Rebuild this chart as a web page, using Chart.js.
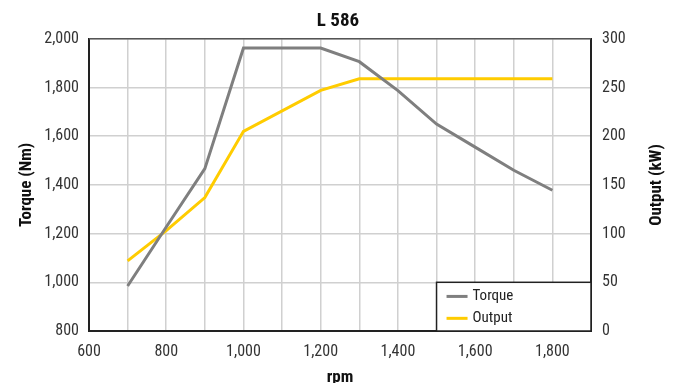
<!DOCTYPE html>
<html><head><meta charset="utf-8">
<script src="https://cdn.jsdelivr.net/npm/chart.js@4"></script>
<style>html,body{margin:0;padding:0;background:#fff}#wrap{width:676px;height:383px}</style>
</head><body><div id="wrap"><canvas id="c" width="676" height="383"></canvas></div>
<script>
const chartTitle = "L 586";
const rpm = [700, 800, 900, 1000, 1200, 1300, 1400, 1500, 1600, 1700, 1800];
const torqueNm = [985, 1227, 1467, 1962, 1962, 1906, 1787, 1650, 1555, 1460, 1378];
const outputKW = [72, 103, 137, 205, 247, 259, 259, 259, 259, 259, 259];
const seriesNames = ["Torque", "Output"];
const seriesColors = ["#7f7f7f", "#ffcc00"];
const xTitle = "rpm", yLeftTitle = "Torque (Nm)", yRightTitle = "Output (kW)";
const FONT = "'Roboto Condensed','Roboto',sans-serif";

const fmt = v => Number(v).toLocaleString('en-US');

const frame = {
  id: 'frame',
  afterDraw(chart) {
    const {ctx, chartArea: a, scales} = chart;
    ctx.save();
    ctx.strokeStyle = '#555'; ctx.lineWidth = 1.5;
    ctx.beginPath(); ctx.moveTo(a.left, a.top); ctx.lineTo(a.right, a.top); ctx.stroke();
    const x0 = scales.x.getPixelForValue(1500);
    const y0 = scales.y2.getPixelForValue(50);
    ctx.fillStyle = '#fff';
    ctx.fillRect(x0, y0, a.right - x0, a.bottom - y0);
    ctx.strokeStyle = '#222'; ctx.lineWidth = 1.5;
    ctx.strokeRect(x0, y0, a.right - x0, a.bottom - y0);
    ctx.font = "15px " + FONT; ctx.textBaseline = 'middle'; ctx.textAlign = 'left';
    const h = a.bottom - y0;
    seriesNames.forEach((n, i) => {
      const yy = y0 + h * (i === 0 ? 0.29 : 0.74);
      ctx.strokeStyle = seriesColors[i]; ctx.lineWidth = 3;
      ctx.beginPath(); ctx.moveTo(x0 + 10, yy); ctx.lineTo(x0 + 31, yy); ctx.stroke();
      ctx.fillStyle = '#222'; ctx.fillText(n, x0 + 36, yy);
    });
    ctx.fillStyle = '#111';
    ctx.font = "bold 17px " + FONT;
    ctx.textAlign = 'center'; ctx.textBaseline = 'middle';
    const cy = (a.top + a.bottom) / 2;
    ctx.save(); ctx.translate(27, cy); ctx.rotate(-Math.PI / 2); ctx.fillText(yLeftTitle, 0, 0); ctx.restore();
    ctx.save(); ctx.translate(657, cy); ctx.rotate(-Math.PI / 2); ctx.fillText(yRightTitle, 0, 0); ctx.restore();
    ctx.textBaseline = 'top';
    ctx.fillText(xTitle, (a.left + a.right) / 2, 369);
    ctx.restore();
  }
};

new Chart(document.getElementById('c'), {
  type: 'line',
  data: {
    datasets: [
      { label: seriesNames[0], data: rpm.map((r, i) => ({x: r, y: torqueNm[i]})), yAxisID: 'y',
        borderColor: seriesColors[0], borderWidth: 3, pointRadius: 0, tension: 0 },
      { label: seriesNames[1], data: rpm.map((r, i) => ({x: r, y: outputKW[i]})), yAxisID: 'y2',
        borderColor: seriesColors[1], borderWidth: 3, pointRadius: 0, tension: 0 }
    ]
  },
  options: {
    responsive: false, animation: false,
    layout: { padding: 0 },
    plugins: {
      legend: { display: false },
      tooltip: { enabled: false },
      title: { display: true, text: chartTitle, color: '#111',
        font: { family: FONT, size: 19, weight: 'bold' }, padding: { top: 10, bottom: 6 } }
    },
    scales: {
      x: { type: 'linear', min: 600, max: 1900,
        ticks: { stepSize: 100, autoSkip: false, color: '#333', font: { family: FONT, size: 16 }, padding: 11, maxRotation: 0,
          callback: v => (v % 200 === 0 && v <= 1800) ? fmt(v) : '' },
        grid: { color: '#d0d0d0', lineWidth: 1.5, drawTicks: false },
        border: { color: '#222', width: 2 },
        afterFit: s => { s.height = 52; } },
      y: { position: 'left', min: 800, max: 2000,
        ticks: { stepSize: 200, color: '#333', font: { family: FONT, size: 16 }, padding: 10, callback: v => fmt(v) },
        grid: { color: '#d0d0d0', lineWidth: 1.5, drawTicks: false },
        border: { color: '#222', width: 2 },
        afterFit: s => { s.width = 89; } },
      y2: { position: 'right', min: 0, max: 300,
        ticks: { stepSize: 50, color: '#333', font: { family: FONT, size: 16 }, padding: 11, callback: v => fmt(v) },
        grid: { display: false, drawTicks: false },
        border: { color: '#222', width: 2 },
        afterFit: s => { s.width = 85; } }
    }
  },
  plugins: [frame]
});
</script></body></html>
